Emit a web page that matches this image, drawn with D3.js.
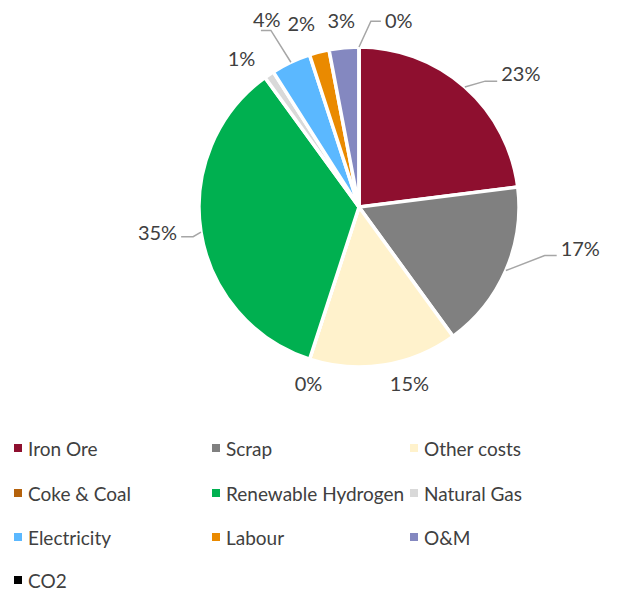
<!DOCTYPE html>
<html>
<head>
<meta charset="utf-8">
<script src="https://cdn.jsdelivr.net/npm/d3@7"></script>
<style>
  html, body { margin: 0; padding: 0; background: #fff; }
  svg { display: block; }
  text { font-family: Lato, "Open Sans", sans-serif; fill: #404040; }
</style>
</head>
<body>
<svg id="chart" width="621" height="590"></svg>
<script>
// Cost breakdown (share of total, %)
const categories = ["Iron Ore", "Scrap", "Other costs", "Coke & Coal", "Renewable Hydrogen",
                    "Natural Gas", "Electricity", "Labour", "O&M", "CO2"];
const shares = [23, 17, 15, 0, 35, 1, 4, 2, 3, 0];
const colors = ["#8E0F2F", "#808080", "#FFF2CC", "#B5620C", "#00B050",
                "#D9D9D9", "#5BB8FF", "#EA8A00", "#8488C0", "#000000"];

// Label placement: [angle nudge in degrees, label radius, leader?]
const labelLayout = [
  [9, 210, true],
  [-13, 225, true],
  [-7, 183, false],
  [-2, 183, false],
  [2, 203, true],
  [-4, 190, false],
  [-1, 209, true],
  [-3, 193, false],
  [0, 188, false],
  [12, 191, true]
];

const svg = d3.select("#chart");
const cx = 359, cy = 207, R = 160;
const g = svg.append("g").attr("transform", `translate(${cx},${cy})`);

const data = categories.map((c, i) => ({ name: c, value: shares[i], color: colors[i], i }));
const pie = d3.pie().value(d => d.value).sort(null);
const arcs = pie(data);
const arc = d3.arc().innerRadius(0).outerRadius(R);

g.selectAll("path.slice")
  .data(arcs)
  .join("path")
  .attr("class", "slice")
  .attr("d", arc)
  .attr("fill", d => d.data.color)
  .attr("stroke", "#fff")
  .attr("stroke-width", 3.5)
  .attr("stroke-linejoin", "miter");

const toXY = (ang, r) => [r * Math.sin(ang), -r * Math.cos(ang)];

arcs.forEach((a, k) => {
  const [nudge, lr, leader] = labelLayout[k];
  const mid = (a.startAngle + a.endAngle) / 2;
  const la = mid + nudge * Math.PI / 180;
  const [lx, ly] = toXY(la, lr);
  const txt = g.append("text")
    .attr("x", lx).attr("y", ly)
    .attr("text-anchor", "middle")
    .attr("dominant-baseline", "central")
    .attr("font-size", 20)
    .text(Math.round(a.data.value) + "%");
  if (leader) {
    const bb = txt.node().getBBox();
    const [ex, ey] = toXY(mid, R);
    let elbowX, endX, endY;
    if (Math.abs(lx) < 60) {
      // label above the pie: attach to its left side
      endX = bb.x - 4; endY = ly + 1;
      elbowX = endX - 10;
    } else if (lx > 0) {
      endX = bb.x - 4; endY = ly + (ey > ly ? 8 : 7);
      elbowX = endX - 12;
    } else {
      endX = bb.x + bb.width + 4; endY = ly + 5;
      elbowX = endX + 12;
    }
    if (k === 6) { endX = bb.x + 8; endY = bb.y + bb.height - 1; elbowX = endX + 10; }
    g.append("polyline")
      .attr("points", [[ex, ey], [elbowX, endY], [endX, endY]].map(p => p.join(",")).join(" "))
      .attr("fill", "none")
      .attr("stroke", "#A6A6A6")
      .attr("stroke-width", 1.5);
  }
});

// Legend: three columns
const legend = svg.append("g");
const colX = [14, 212, 410];
const rowY = [448, 493, 537, 580];
data.forEach((d, i) => {
  const x = colX[i % 3], y = rowY[Math.floor(i / 3)];
  legend.append("rect")
    .attr("x", x).attr("y", y - 4).attr("width", 8).attr("height", 8)
    .attr("fill", d.color);
  legend.append("text")
    .attr("x", x + 14).attr("y", y)
    .attr("dominant-baseline", "central")
    .attr("font-size", 19)
    .text(d.name);
});
</script>
</body>
</html>
